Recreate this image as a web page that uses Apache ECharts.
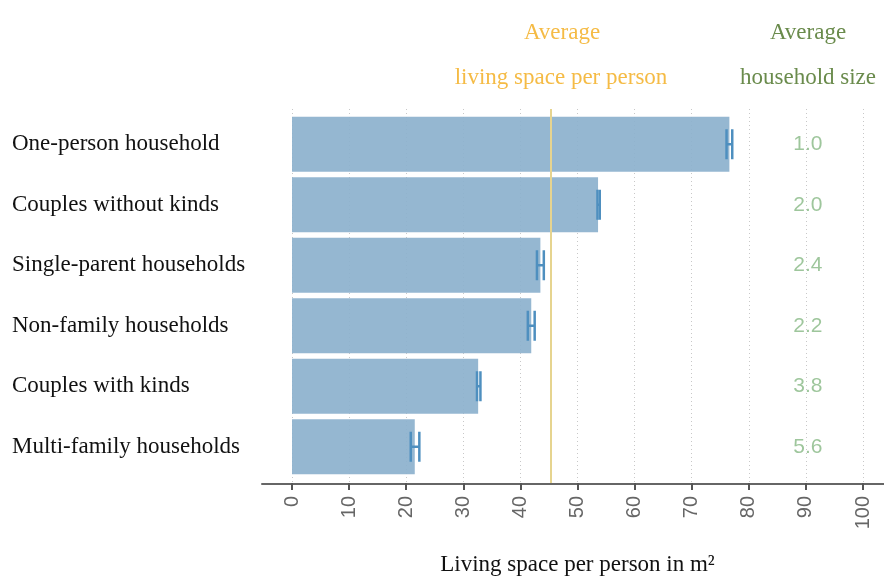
<!DOCTYPE html>
<html>
<head>
<meta charset="utf-8">
<script src="https://cdn.jsdelivr.net/npm/echarts@6/dist/echarts.min.js"></script>
<style>
  html, body { margin: 0; padding: 0; background: #fff; }
  #chart { width: 884px; height: 577px; }
</style>
</head>
<body>
<div id="chart"></div>
<script>
// Household types, top to bottom
const categories = [
  'One-person household',
  'Couples without kinds',
  'Single-parent households',
  'Non-family households',
  'Couples with kinds',
  'Multi-family households'
];
// Mean living space per person (m²)
const livingSpace = [76.6, 53.6, 43.5, 41.9, 32.6, 21.5];
// Confidence interval bounds
const ciLow  = [76.1, 53.5, 42.9, 41.3, 32.4, 20.8];
const ciHigh = [77.1, 53.9, 44.1, 42.5, 33.0, 22.3];
// Average household size per type
const householdSize = ['1.0', '2.0', '2.4', '2.2', '3.8', '5.6'];
// Overall average living space per person
const overallAverage = 45.3;
// Axis ticks
const xTicks = [0, 10, 20, 30, 40, 50, 60, 70, 80, 90, 100];
// Horizontal position of the household-size column, in axis units
const sizeColumnX = 90;

const serif = '"Liberation Serif", "DejaVu Serif", serif';
const sans = '"Liberation Sans", Arial, sans-serif';

const chart = echarts.init(document.getElementById('chart'), null, { renderer: 'canvas' });

const headerStyle = color => ({ fontFamily: serif, fontSize: 23, fontWeight: 'normal', color });

const option = {
  animation: false,
  backgroundColor: '#ffffff',
  title: [
    { text: 'Average', left: 557, top: 16, textAlign: 'center', textStyle: headerStyle('#f5bb45') },
    { text: 'living space per person', left: 556, top: 61, textAlign: 'center', textStyle: headerStyle('#f5bb45') },
    { text: 'Average', left: 803, top: 16, textAlign: 'center', textStyle: headerStyle('#6a8b4c') },
    { text: 'household size', left: 803, top: 61, textAlign: 'center', textStyle: headerStyle('#6a8b4c') }
  ],
  grid: [
    // bars
    { left: 292, right: 21, top: 114, bottom: 100, outerBoundsMode: 'none', containLabel: false },
    // ticks, labels, vertical gridlines and the average line
    { left: 292, right: 21, top: 109, bottom: 94, outerBoundsMode: 'none', containLabel: false },
    // long baseline
    { left: 262, right: 0, top: 111, bottom: 93, outerBoundsMode: 'none', containLabel: false }
  ],
  xAxis: [
    { gridIndex: 0, type: 'value', min: 0, max: 100, interval: 10, show: false },
    {
      gridIndex: 1, type: 'value', min: xTicks[0], max: xTicks[xTicks.length - 1], interval: 10,
      axisLine: { show: false, onZero: false },
      axisTick: { show: true, length: 7, lineStyle: { color: '#555', width: 2 } },
      axisLabel: { rotate: 90, margin: 13, fontFamily: sans, fontSize: 20, color: '#666' },
      splitLine: { show: true, lineStyle: { color: '#c8c8c8', type: [1, 3], width: 1 } },
      name: 'Living space per person in m²',
      nameLocation: 'middle', nameGap: 70,
      nameTextStyle: { fontFamily: serif, fontSize: 23, color: '#111' }
    },
    {
      gridIndex: 2, type: 'value', min: 0, max: 10, interval: 10,
      axisLine: { show: true, onZero: false, lineStyle: { color: '#666', width: 2 } },
      axisTick: { show: false }, axisLabel: { show: false }, splitLine: { show: false }
    }
  ],
  yAxis: [
    {
      gridIndex: 0, type: 'category', data: categories, inverse: true,
      axisLine: { show: false }, axisTick: { show: false },
      axisLabel: {
        align: 'left', margin: 280, fontFamily: serif, fontSize: 23, color: '#111',
        padding: [0, 0, 5, 0]
      }
    },
    { gridIndex: 1, type: 'value', min: 0, max: 1, show: false },
    { gridIndex: 2, type: 'value', show: false }
  ],
  series: [
    {
      type: 'bar', xAxisIndex: 0, yAxisIndex: 0,
      data: livingSpace,
      barCategoryGap: '9%',
      itemStyle: { color: '#8db2ce', opacity: 0.93 },
      z: 2
    },
    {
      // overall average living space, drawn as a vertical rule
      type: 'line', xAxisIndex: 1, yAxisIndex: 1,
      data: [],
      markLine: {
        silent: true, symbol: 'none',
        lineStyle: { color: '#e6d48f', width: 2, type: 'solid' },
        label: { show: false },
        data: [{ xAxis: overallAverage }]
      },
      z: 5
    },
    {
      // confidence interval whiskers
      type: 'custom', xAxisIndex: 0, yAxisIndex: 0,
      data: categories.map((c, i) => [i, ciLow[i], ciHigh[i]]),
      renderItem: function (params, api) {
        const idx = api.value(0);
        const lo = api.coord([api.value(1), idx]);
        const hi = api.coord([api.value(2), idx]);
        const half = 15;
        const style = { stroke: '#4e8fbf', lineWidth: 2.5 };
        return {
          type: 'group',
          children: [
            { type: 'line', shape: { x1: lo[0], y1: lo[1], x2: hi[0], y2: hi[1] }, style },
            { type: 'line', shape: { x1: lo[0], y1: lo[1] - half, x2: lo[0], y2: lo[1] + half }, style },
            { type: 'line', shape: { x1: hi[0], y1: hi[1] - half, x2: hi[0], y2: hi[1] + half }, style }
          ]
        };
      },
      z: 3
    },
    {
      // household size column
      type: 'scatter', xAxisIndex: 0, yAxisIndex: 0,
      symbolSize: 0,
      data: categories.map((c, i) => [sizeColumnX, i]),
      label: {
        show: true, position: 'inside', offset: [2, 0],
        formatter: p => householdSize[p.dataIndex],
        fontFamily: sans, fontSize: 21, color: '#86b883'
      },
      z: 4
    }
  ]
};

chart.setOption(option);
</script>
</body>
</html>
